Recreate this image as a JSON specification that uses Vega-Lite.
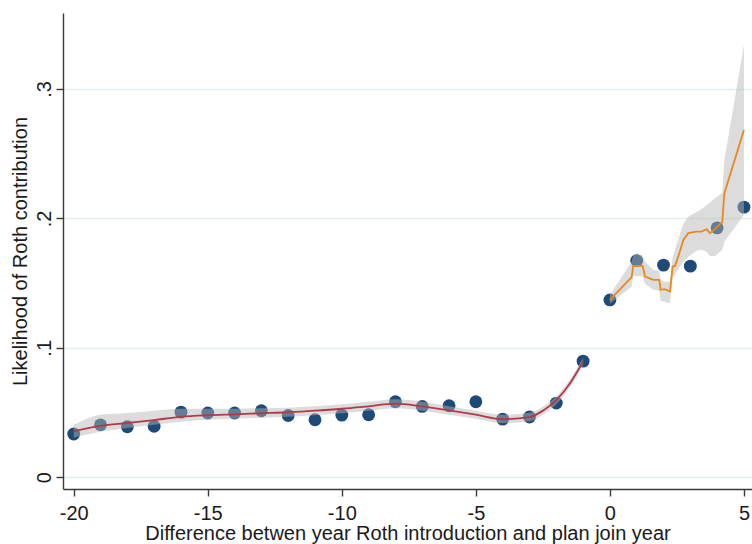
{
  "$schema": "https://vega.github.io/schema/vega-lite/v6.json",
  "width": 689,
  "height": 476,
  "autosize": "none",
  "padding": {"left": 63, "top": 13, "right": 0, "bottom": 55},
  "background": "white",
  "config": {
    "view": {"stroke": null},
    "axis": {
      "labelFont": "Liberation Sans",
      "titleFont": "Liberation Sans",
      "labelFontSize": 20,
      "titleFontSize": 20,
      "titleFontWeight": "normal",
      "labelColor": "#1a1a1a",
      "titleColor": "#1a1a1a",
      "domainColor": "#3a3a3a",
      "tickColor": "#3a3a3a",
      "domainWidth": 1.4,
      "tickWidth": 1.4,
      "tickSize": 7
    }
  },
  "datasets": {
    "bins": [
      {"diff": -20, "share": 0.0334},
      {"diff": -19, "share": 0.0405},
      {"diff": -18, "share": 0.0390},
      {"diff": -17, "share": 0.0394},
      {"diff": -16, "share": 0.0503},
      {"diff": -15, "share": 0.0496},
      {"diff": -14, "share": 0.0496},
      {"diff": -13, "share": 0.0514},
      {"diff": -12, "share": 0.0477},
      {"diff": -11, "share": 0.0444},
      {"diff": -10, "share": 0.0480},
      {"diff": -9, "share": 0.0483},
      {"diff": -8, "share": 0.0583},
      {"diff": -7, "share": 0.0547},
      {"diff": -6, "share": 0.0552},
      {"diff": -5, "share": 0.0583},
      {"diff": -4, "share": 0.0449},
      {"diff": -3, "share": 0.0465},
      {"diff": -2, "share": 0.0573},
      {"diff": -1, "share": 0.0897},
      {"diff": 0, "share": 0.1370},
      {"diff": 1, "share": 0.1674},
      {"diff": 2, "share": 0.1639},
      {"diff": 3, "share": 0.1631},
      {"diff": 4, "share": 0.1927},
      {"diff": 5, "share": 0.2087}
    ],
    "fitpre": [
      {"diff": -20, "fit": 0.0355, "lo": 0.0307, "hi": 0.0405},
      {"diff": -19, "fit": 0.0397, "lo": 0.0351, "hi": 0.0483},
      {"diff": -18, "fit": 0.0419, "lo": 0.0380, "hi": 0.0496},
      {"diff": -17, "fit": 0.0442, "lo": 0.0405, "hi": 0.0514},
      {"diff": -16, "fit": 0.0467, "lo": 0.0429, "hi": 0.0529},
      {"diff": -15, "fit": 0.0479, "lo": 0.0444, "hi": 0.0529},
      {"diff": -14, "fit": 0.0486, "lo": 0.0452, "hi": 0.0529},
      {"diff": -13, "fit": 0.0494, "lo": 0.0459, "hi": 0.0533},
      {"diff": -12, "fit": 0.0502, "lo": 0.0467, "hi": 0.0537},
      {"diff": -11, "fit": 0.0514, "lo": 0.0479, "hi": 0.0548},
      {"diff": -10, "fit": 0.0529, "lo": 0.0494, "hi": 0.0564},
      {"diff": -9, "fit": 0.0548, "lo": 0.0514, "hi": 0.0583},
      {"diff": -8, "fit": 0.0568, "lo": 0.0533, "hi": 0.0602},
      {"diff": -7, "fit": 0.0547, "lo": 0.0514, "hi": 0.0583},
      {"diff": -6, "fit": 0.0516, "lo": 0.0483, "hi": 0.0548},
      {"diff": -5, "fit": 0.0483, "lo": 0.0452, "hi": 0.0514},
      {"diff": -4, "fit": 0.0449, "lo": 0.0417, "hi": 0.0483},
      {"diff": -3, "fit": 0.0465, "lo": 0.0432, "hi": 0.0498},
      {"diff": -2.5, "fit": 0.0514, "lo": 0.0483, "hi": 0.0544},
      {"diff": -2, "fit": 0.0595, "lo": 0.0564, "hi": 0.0625},
      {"diff": -1.5, "fit": 0.0722, "lo": 0.0691, "hi": 0.0753},
      {"diff": -1, "fit": 0.0894, "lo": 0.0865, "hi": 0.0923}
    ],
    "fitpost": [
      {"diff": 0.0, "fit": 0.1371, "lo": 0.1340, "hi": 0.1409},
      {"diff": 0.81, "fit": 0.1546, "lo": 0.1471, "hi": 0.1664},
      {"diff": 0.87, "fit": 0.1633, "lo": 0.1556, "hi": 0.1718},
      {"diff": 1.22, "fit": 0.1633, "lo": 0.1551, "hi": 0.1718},
      {"diff": 1.31, "fit": 0.1551, "lo": 0.1494, "hi": 0.1664},
      {"diff": 1.62, "fit": 0.1525, "lo": 0.1448, "hi": 0.1602},
      {"diff": 1.84, "fit": 0.1525, "lo": 0.1440, "hi": 0.1595},
      {"diff": 1.89, "fit": 0.1448, "lo": 0.1363, "hi": 0.1525},
      {"diff": 2.05, "fit": 0.1453, "lo": 0.1355, "hi": 0.1510},
      {"diff": 2.24, "fit": 0.1435, "lo": 0.1345, "hi": 0.1510},
      {"diff": 2.34, "fit": 0.1628, "lo": 0.1541, "hi": 0.1695},
      {"diff": 2.43, "fit": 0.1633, "lo": 0.1571, "hi": 0.1757},
      {"diff": 2.61, "fit": 0.1744, "lo": 0.1625, "hi": 0.1880},
      {"diff": 2.74, "fit": 0.1834, "lo": 0.1664, "hi": 0.1958},
      {"diff": 2.92, "fit": 0.1886, "lo": 0.1703, "hi": 0.2012},
      {"diff": 3.23, "fit": 0.1898, "lo": 0.1749, "hi": 0.2050},
      {"diff": 3.42, "fit": 0.1898, "lo": 0.1757, "hi": 0.2073},
      {"diff": 3.61, "fit": 0.1917, "lo": 0.1741, "hi": 0.2104},
      {"diff": 3.73, "fit": 0.1886, "lo": 0.1710, "hi": 0.2120},
      {"diff": 3.92, "fit": 0.1917, "lo": 0.1710, "hi": 0.2158},
      {"diff": 4.19, "fit": 0.1973, "lo": 0.1757, "hi": 0.2195},
      {"diff": 4.27, "fit": 0.2195, "lo": 0.1819, "hi": 0.2452},
      {"diff": 5.0, "fit": 0.2683, "lo": 0.2027, "hi": 0.3340}
    ]
  },
  "encoding": {
    "x": {
      "field": "diff",
      "type": "quantitative",
      "scale": {"domain": [-20.4, 5.3], "nice": false, "zero": false},
      "axis": {
        "values": [-20, -15, -10, -5, 0, 5],
        "grid": false,
        "labelPadding": 7,
        "labelExpr": "datum.value < 0 ? '-' + abs(datum.value) : '' + datum.value",
        "title": "Difference betwen year Roth introduction and plan join year",
        "titlePadding": 0
      }
    }
  },
  "layer": [
    {
      "data": {"name": "bins"},
      "mark": {"type": "point", "filled": true, "shape": "circle", "size": 165, "opacity": 1, "color": "#1d4a77"},
      "encoding": {
        "y": {
          "field": "share",
          "type": "quantitative",
          "scale": {"domain": [-0.0091, 0.3587], "nice": false, "zero": false},
          "axis": {
            "values": [0, 0.1, 0.2, 0.3],
            "grid": true,
            "gridColor": "#e4eef0",
            "gridWidth": 1.5,
            "labelAngle": -90,
            "labelAlign": "center",
            "labelBaseline": "bottom",
            "labelPadding": 2,
            "labelExpr": "datum.value == 0 ? '0' : replace(format(datum.value, '.1f'), '0.', '.')",
            "title": "Likelihood of Roth contribution",
            "titlePadding": 4
          }
        }
      }
    },
    {
      "data": {"name": "fitpre"},
      "mark": {"type": "area", "color": "#b4b4b4", "opacity": 0.47, "interpolate": "monotone"},
      "encoding": {
        "y": {"field": "lo", "type": "quantitative"},
        "y2": {"field": "hi"}
      }
    },
    {
      "data": {"name": "fitpost"},
      "mark": {"type": "area", "color": "#b4b4b4", "opacity": 0.47},
      "encoding": {
        "y": {"field": "lo", "type": "quantitative"},
        "y2": {"field": "hi"}
      }
    },
    {
      "data": {"name": "fitpre"},
      "mark": {"type": "line", "color": "#b23a48", "strokeWidth": 1.8, "interpolate": "monotone"},
      "encoding": {
        "y": {"field": "fit", "type": "quantitative"}
      }
    },
    {
      "data": {"name": "fitpost"},
      "mark": {"type": "line", "color": "#e8891c", "strokeWidth": 1.8},
      "encoding": {
        "y": {"field": "fit", "type": "quantitative"}
      }
    }
  ]
}
